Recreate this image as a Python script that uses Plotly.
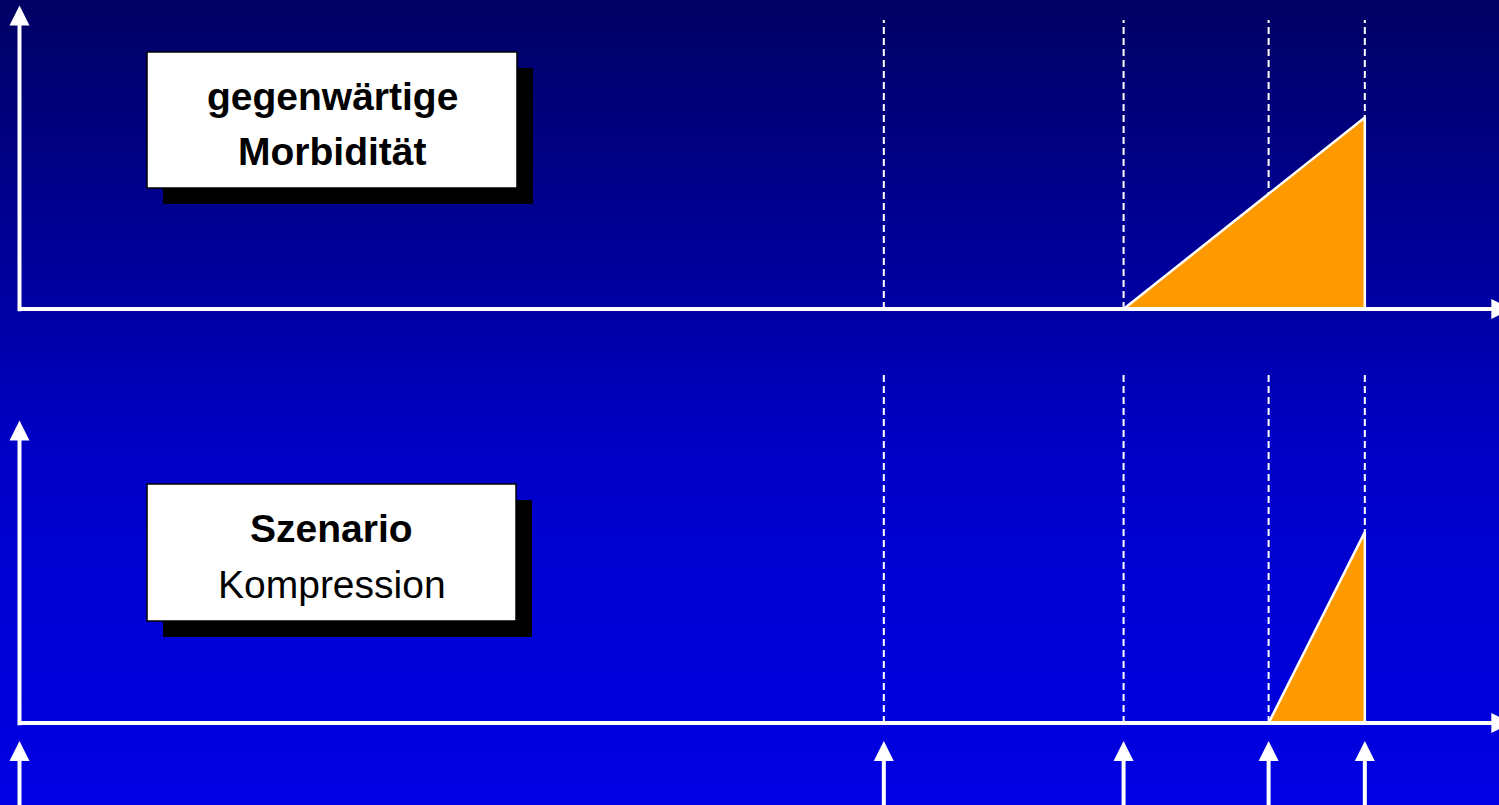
import numpy as np
import plotly.graph_objects as go

# ── Data: life course (years), morbidity phase as a triangle ────────────────
marker_years = [58.4, 74.6, 84.4, 90.9]      # dashed reference lines / arrows
morbidity_onset = [74.6, 84.4]               # current, compression scenario
death_age = 90.9
peak_morbidity = [0.63, 0.63]
panel_line1 = ["gegenwärtige", "Szenario"]
panel_line2 = ["Morbidität", "Kompression"]
line2_bold = [True, False]

# ── Canvas geometry (pixels) ────────────────────────────────────────────────
W, H = 1499, 805
X0_PX, X_SCALE = 19.5, 14.8                  # axis origin, px per year
X_RANGE = [(0 - X0_PX) / X_SCALE, (W - X0_PX) / X_SCALE]

FONT = "Liberation Sans, Arial, Helvetica, sans-serif"
FONT_SIZE = 39
ORANGE = "#FF9900"


def px_x(p):
    return p / W


def px_y(p):
    return 1 - p / H


# each panel: pixel row of y=0, px per unit, pixel span of the y-axis domain
panels = [
    dict(zero=309, scale=304, top=0, bottom=340, dash_top=20),
    dict(zero=723, scale=303, top=360, bottom=805, dash_top=372),
]
boxes = [
    dict(x0=147, x1=517, y0=52, y1=188, t1=97, t2=152),
    dict(x0=147, x1=516, y0=484, y1=621, t1=528, t2=584),
]

# ── Background gradient (navy → bright blue) ────────────────────────────────
stops_px = [0, 120, 310, 430, 540, 805]
stops_b = [100, 125, 165, 195, 208, 228]
shapes = []
band = 5
for y in range(0, H, band):
    b = int(np.interp(y + band / 2, stops_px, stops_b))
    shapes.append(dict(type="rect", xref="paper", yref="paper", layer="below",
                       x0=0, x1=1, y0=px_y(y + band), y1=px_y(y),
                       fillcolor=f"rgb(0,0,{b})", line=dict(width=0)))

fig = go.Figure()
annotations = []
layout_axes = {}
ARROW = dict(text="", showarrow=True, arrowhead=2, arrowsize=1.0, arrowwidth=4,
             arrowcolor="white")

for i, p in enumerate(panels):
    sfx = "" if i == 0 else str(i + 1)
    xa, ya = "x" + sfx, "y" + sfx
    y_range = [(p["zero"] - p["bottom"]) / p["scale"], (p["zero"] - p["top"]) / p["scale"]]
    layout_axes["xaxis" + sfx] = dict(range=X_RANGE, domain=[0, 1], visible=False,
                                      anchor=ya, fixedrange=True)
    layout_axes["yaxis" + sfx] = dict(range=y_range, domain=[px_y(p["bottom"]), px_y(p["top"])],
                                      visible=False, anchor=xa, fixedrange=True)

    # dashed reference lines
    dash_top = (p["zero"] - p["dash_top"]) / p["scale"]
    for t in marker_years:
        shapes.append(dict(type="line", xref=xa, yref=ya, layer="below",
                           x0=t, x1=t, y0=0, y1=dash_top,
                           line=dict(color="white", width=2, dash="7px,4px")))

    # morbidity triangle
    fig.add_trace(go.Scatter(
        x=[morbidity_onset[i], death_age, death_age, morbidity_onset[i]],
        y=[0, peak_morbidity[i], 0, 0],
        xaxis=xa, yaxis=ya, mode="lines", fill="toself", fillcolor=ORANGE,
        line=dict(color="white", width=2.5), hoverinfo="skip", showlegend=False,
    ))

    # axes with arrowheads
    refs = dict(xref=xa, yref=ya, axref=xa, ayref=ya)
    annotations.append(dict(ARROW, **refs, x=0, y=0.998, ax=0, ay=-0.012))
    annotations.append(dict(ARROW, **refs, x=100.8, y=0, ax=-0.13, ay=0))

    # text box with drop shadow
    bx = boxes[i]
    shapes.append(dict(type="rect", xref="paper", yref="paper", layer="below",
                       x0=px_x(bx["x0"] + 16), x1=px_x(bx["x1"] + 16),
                       y0=px_y(bx["y1"] + 16), y1=px_y(bx["y0"] + 16),
                       fillcolor="black", line=dict(width=0)))
    shapes.append(dict(type="rect", xref="paper", yref="paper", layer="below",
                       x0=px_x(bx["x0"]), x1=px_x(bx["x1"]),
                       y0=px_y(bx["y1"]), y1=px_y(bx["y0"]),
                       fillcolor="white", line=dict(color="black", width=1.5)))
    cx = px_x((bx["x0"] + bx["x1"]) / 2)
    annotations.append(dict(text=panel_line1[i], x=cx, y=px_y(bx["t1"]), xref="paper",
                            yref="paper", showarrow=False, xanchor="center", yanchor="middle",
                            font=dict(family=FONT, size=FONT_SIZE, color="black",
                                      weight="bold")))
    annotations.append(dict(text=panel_line2[i], x=cx, y=px_y(bx["t2"]), xref="paper",
                            yref="paper", showarrow=False, xanchor="center", yanchor="middle",
                            font=dict(family=FONT, size=FONT_SIZE, color="black",
                                      weight="bold" if line2_bold[i] else "normal")))

# upward arrows below the lower panel
p = panels[1]
for t in [0] + marker_years:
    annotations.append(dict(ARROW, xref="x2", yref="y2", axref="x2", ayref="y2",
                            x=t, y=(p["zero"] - 741) / p["scale"],
                            ax=t, ay=(p["zero"] - 815) / p["scale"]))

fig.update_layout(
    width=W, height=H,
    margin=dict(l=0, r=0, t=0, b=0),
    paper_bgcolor="rgb(0,0,100)",
    plot_bgcolor="rgba(0,0,0,0)",
    shapes=shapes,
    annotations=annotations,
    showlegend=False,
    **layout_axes,
)

fig.write_html("out.html", config=dict(displayModeBar=False),
               post_script="document.body.style.margin='0';"
                           "document.body.style.overflow='hidden';")
